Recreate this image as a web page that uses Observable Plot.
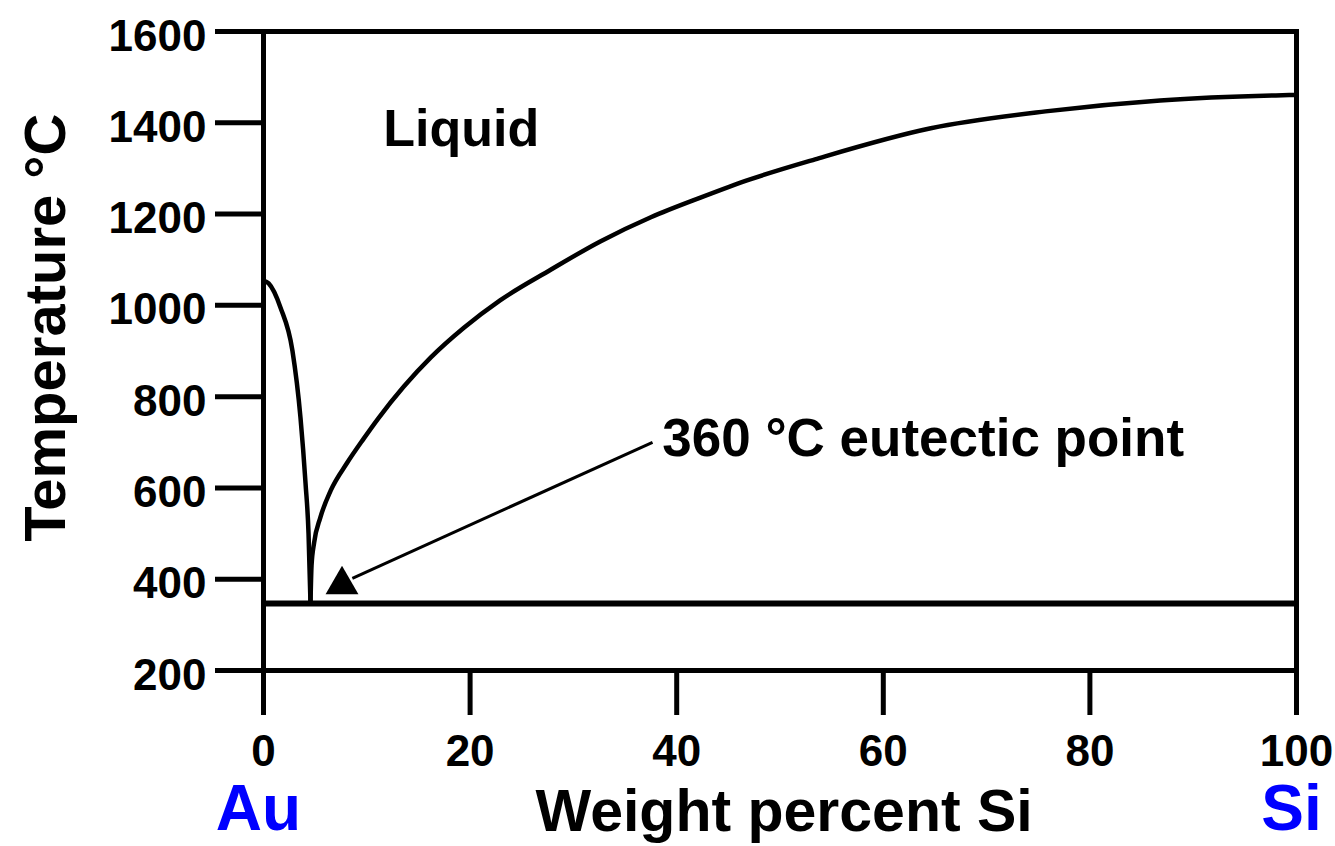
<!DOCTYPE html>
<html>
<head>
<meta charset="utf-8">
<script src="https://cdn.jsdelivr.net/npm/d3@7"></script>
<script src="https://cdn.jsdelivr.net/npm/@observablehq/plot@0.6"></script>
<style>
  html, body { margin: 0; padding: 0; background: #fff; }
  svg { display: block; }
</style>
</head>
<body>
<div id="chart"></div>
<script>
// Au-Si phase diagram data
const leftLiquidusSi = [0, 0.5, 1.65, 2.8, 3.58, 4.07, 4.36, 4.55];
const leftLiquidusT  = [1054, 1048, 995, 901, 754, 610, 500, 347];

const rightLiquidusSi = [4.55, 4.65, 4.9, 5.5, 6.5, 8.1, 9.7, 11.1, 16.2, 19.4, 22.9, 27.8, 32.6, 37.5, 42.3, 47.1, 53.4, 64.6, 75.7, 86.8, 98, 100];
const rightLiquidusT  = [347, 430, 480, 535, 594, 655, 708, 752, 886, 951, 1011, 1078, 1140, 1193, 1236, 1276, 1320, 1388, 1425, 1449, 1460, 1461];

const eutecticT = 347;
const xTicks = [0, 20, 40, 60, 80, 100];
const yTicks = [200, 400, 600, 800, 1000, 1200, 1400, 1600];

const regionLabels = [{x: 11.6, y: 1350, text: "Liquid"}];
const eutecticLabel = [{x: 38.6, y: 669, text: "360 °C eutectic point"}];
const arrowFrom = {x: 37.66, y: 700};
const arrowTo = {x: 8.6, y: 402};
const arrowHead = [{x: 7.6, y: 388}];
const yTitle = [{x: -19.2, y: 951, text: "Temperature °C"}];
const xTitle = [{x: 50.4, y: -151, text: "Weight percent Si"}];
const elements = [{x: 0, y: -150, text: "Au"}, {x: 100, y: -150, text: "Si"}];

const left = leftLiquidusSi.map((x, i) => ({x, y: leftLiquidusT[i]}));
const right = rightLiquidusSi.map((x, i) => ({x, y: rightLiquidusT[i]}));

const font = "'Liberation Sans', Arial, Helvetica, sans-serif";

const chart = Plot.plot({
  width: 1335,
  height: 846,
  marginLeft: 263,
  marginRight: 39,
  marginTop: 31,
  marginBottom: 176,
  style: {fontFamily: font, fontWeight: "bold", color: "black", background: "white"},
  x: {domain: [0, 100], axis: null},
  y: {domain: [200, 1600], axis: null},
  marks: [
    Plot.axisY(yTicks, {tickSize: 48, strokeWidth: 5, tickFormat: () => "", label: null}),
    Plot.axisY(yTicks, {tickSize: 0, tickPadding: 57, dy: 5, fontSize: 44, fontWeight: "bold", tickFormat: d => String(d), label: null}),
    Plot.axisX(xTicks, {tickSize: 45, strokeWidth: 5, tickPadding: 19, fontSize: 44, fontWeight: "bold", tickFormat: d => String(d), label: null}),
    Plot.frame({strokeWidth: 5, stroke: "black"}),
    Plot.ruleY([eutecticT], {strokeWidth: 6, stroke: "black"}),
    Plot.line(left, {x: "x", y: "y", curve: "monotone-x", strokeWidth: 4.5, stroke: "black"}),
    Plot.line(right, {x: "x", y: "y", curve: "monotone-x", strokeWidth: 4.5, stroke: "black"}),
    Plot.link([0], {x1: () => arrowFrom.x, y1: () => arrowFrom.y, x2: () => arrowTo.x, y2: () => arrowTo.y, strokeWidth: 3, stroke: "black"}),
    Plot.dot(arrowHead, {x: "x", y: "y", symbol: "triangle", r: 12.2, fill: "black", stroke: "none"}),
    Plot.text(regionLabels, {x: "x", y: "y", text: "text", textAnchor: "start", lineAnchor: "bottom", fontSize: 52, fontWeight: "bold", fill: "black"}),
    Plot.text(eutecticLabel, {x: "x", y: "y", text: "text", textAnchor: "start", lineAnchor: "bottom", fontSize: 53, fontWeight: "bold", fill: "black"}),
    Plot.text(yTitle, {x: "x", y: "y", text: "text", rotate: -90, lineAnchor: "bottom", fontSize: 58, fontWeight: "bold", fill: "black"}),
    Plot.text(xTitle, {x: "x", y: "y", text: "text", lineAnchor: "bottom", fontSize: 59, fontWeight: "bold", fill: "black"}),
    Plot.text(elements, {x: "x", y: "y", text: "text", dx: -5, lineAnchor: "bottom", fontSize: 64, fontWeight: "bold", fill: "#0000ff"})
  ]
});
document.getElementById("chart").appendChild(chart);
</script>
</body>
</html>
